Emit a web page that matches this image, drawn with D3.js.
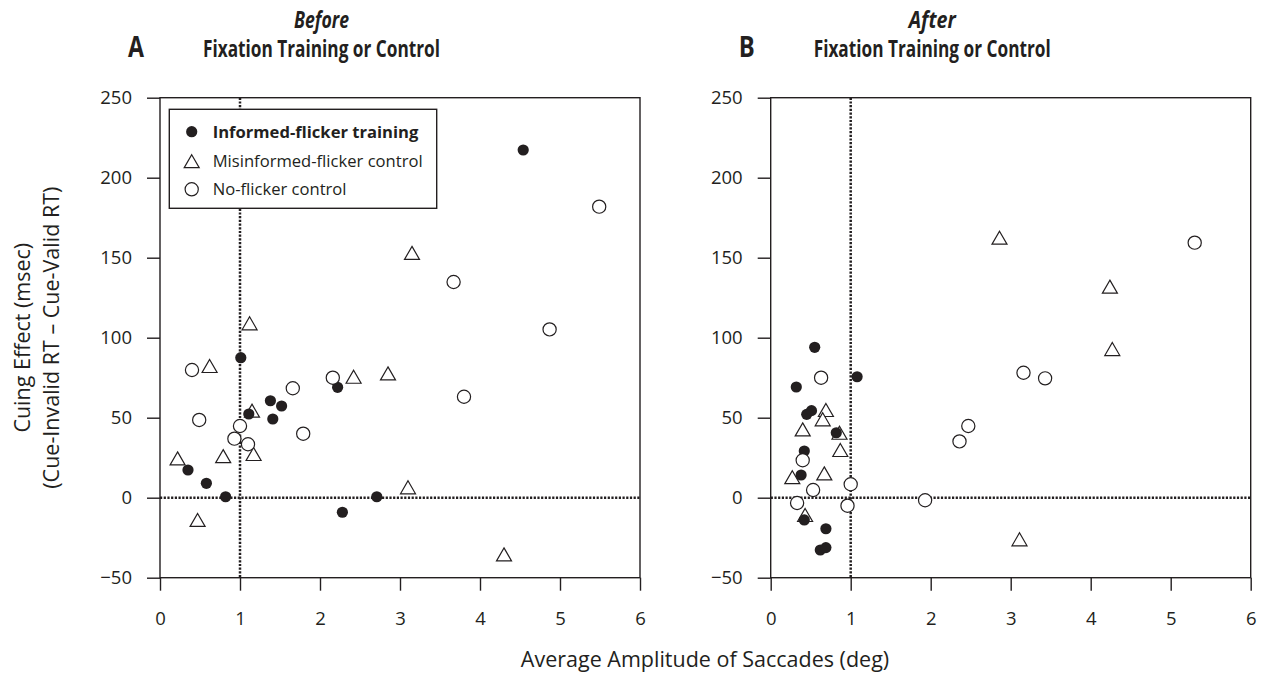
<!DOCTYPE html>
<html>
<head>
<meta charset="utf-8">
<script src="https://cdn.jsdelivr.net/npm/d3@7"></script>
<style>
  body { margin: 0; background: #fff; }
  svg { display: block; font-family: "Open Sans", sans-serif; }
</style>
</head>
<body>
<div id="chart"></div>
<script>
// values: [amplitude (deg), cuing effect (msec)]
const beforeInformed = [[1.01,87.5],[0.35,17.3],[0.58,9],[0.82,0.6],[1.11,52.3],[1.38,60.6],[1.52,57.3],[1.41,49.2],[2.22,69],[2.28,-9.1],[2.71,0.6],[4.54,217.3]];
const beforeMisinformed = [[1.12,109],[0.62,82.3],[0.22,24.6],[0.79,26],[1.15,54.4],[1.17,27.3],[0.47,-13.9],[2.42,75.6],[2.85,77.7],[3.15,153],[3.10,6.5],[4.30,-35.4]];
const beforeNoFlicker = [[0.40,79.8],[0.49,48.6],[1.0,44.8],[0.93,36.9],[1.10,33.4],[1.66,68.4],[1.79,40],[2.16,75],[3.67,134.8],[5.49,181.9],[4.87,105.2],[3.8,63.1]];

const afterInformed = [[0.55,94],[0.32,69.2],[1.08,75.6],[0.45,52.1],[0.51,54.4],[0.82,40.6],[0.42,29.2],[0.38,14.2],[0.42,-13.9],[0.69,-19.4],[0.62,-32.7],[0.69,-31.2]];
const afterMisinformed = [[2.86,162.5],[4.24,131.9],[4.27,92.9],[3.11,-26],[0.69,54.8],[0.65,49],[0.40,42.7],[0.86,40.6],[0.87,29.8],[0.67,15.2],[0.27,12.8],[0.43,-10.8]];
const afterNoFlicker = [[0.63,75],[0.40,23.4],[0.53,4.8],[0.33,-3.3],[1.0,8.4],[0.96,-5],[1.93,-1.6],[2.36,35.2],[2.47,44.8],[3.16,78.1],[3.43,74.6],[5.3,159.4]];

const xTicks = [0, 1, 2, 3, 4, 5, 6];
const yTicks = [-50, 0, 50, 100, 150, 200, 250];
const legendLabels = ["Informed-flicker training", "Misinformed-flicker control", "No-flicker control"];

const width = 1263, height = 685;
const ink = "#231f20";
const plotW = 480, plotTop = 97.7, plotBottom = 577.7;

const svg = d3.select("#chart").append("svg")
    .attr("width", width)
    .attr("height", height);

function trianglePath(w, h) {
    return `M0,${-h / 2}L${w / 2},${h / 2}L${-w / 2},${h / 2}Z`;
}

function drawMarker(sel, kind) {
    if (kind === "filled") {
        sel.append("circle").attr("r", 5.6).attr("fill", ink);
    } else if (kind === "triangle") {
        sel.append("path").attr("d", trianglePath(15, 13))
            .attr("fill", "#fff").attr("stroke", ink).attr("stroke-width", 1.2);
    } else {
        sel.append("circle").attr("r", 6.6)
            .attr("fill", "#fff").attr("stroke", ink).attr("stroke-width", 1.2);
    }
}

function drawPanel(x0, letter, when, informed, misinformed, noFlicker, withLegend) {
    const x = d3.scaleLinear().domain([0, 6]).range([x0, x0 + plotW]);
    const y = d3.scaleLinear().domain([-50, 250]).range([plotBottom, plotTop]);
    const g = svg.append("g");

    // dotted reference lines at 1 deg and 0 msec
    g.append("line")
        .attr("x1", x(1)).attr("x2", x(1))
        .attr("y1", y(250)).attr("y2", y(-50))
        .attr("stroke", ink).attr("stroke-width", 2.5).attr("stroke-dasharray", "2.2,1.5");
    g.append("line")
        .attr("x1", x(0)).attr("x2", x(6))
        .attr("y1", y(0)).attr("y2", y(0))
        .attr("stroke", ink).attr("stroke-width", 2.5).attr("stroke-dasharray", "2.2,1.5");

    // frame
    g.append("rect")
        .attr("x", x(0)).attr("y", y(250))
        .attr("width", x(6) - x(0)).attr("height", y(-50) - y(250))
        .attr("fill", "none").attr("stroke", ink).attr("stroke-width", 1.4);

    const xAxis = g.append("g")
        .attr("transform", `translate(0,${plotBottom})`)
        .call(d3.axisBottom(x).tickValues(xTicks).tickFormat(d3.format("d"))
            .tickSize(13).tickSizeOuter(0).tickPadding(21));
    const yAxis = g.append("g")
        .attr("transform", `translate(${x0},0)`)
        .call(d3.axisLeft(y).tickValues(yTicks).tickSize(13).tickSizeOuter(0).tickPadding(15));
    [xAxis, yAxis].forEach(a => {
        a.select(".domain").remove();
        a.selectAll("line").attr("stroke", ink).attr("stroke-width", 1.4);
        a.selectAll("text").attr("fill", ink).style("font-size", "18.5px")
            .style("font-family", "'Open Sans', sans-serif");
    });

    // points: triangles underneath, then filled, then open circles
    const layers = [[misinformed, "triangle"], [informed, "filled"], [noFlicker, "open"]];
    layers.forEach(([data, kind]) => {
        g.append("g").selectAll("g")
            .data(data)
            .join("g")
            .attr("transform", d => `translate(${x(d[0])},${y(d[1])})`)
            .each(function () { drawMarker(d3.select(this), kind); });
    });

    if (withLegend) {
        const lg = g.append("g");
        lg.append("rect")
            .attr("x", x0 + 9.3).attr("y", 109.3)
            .attr("width", 267.4).attr("height", 99)
            .attr("fill", "#fff").attr("stroke", ink).attr("stroke-width", 1.4);
        const rows = [131.7, 161.2, 189.3];
        const kinds = ["filled", "triangle", "open"];
        legendLabels.forEach((label, i) => {
            const m = lg.append("g").attr("transform", `translate(${x0 + 31.7},${rows[i]})`);
            drawMarker(m, kinds[i]);
            lg.append("text")
                .attr("x", x0 + 52.7).attr("y", rows[i])
                .attr("dy", "0.36em")
                .attr("fill", ink)
                .style("font-size", "16.6px")
                .style("font-weight", i === 0 ? "bold" : "normal")
                .text(label);
        });
    }

    // titles
    const cx = x0 + 161.5;
    svg.append("text")
        .attr("x", cx).attr("y", 28)
        .attr("text-anchor", "middle")
        .attr("fill", ink)
        .style("font-size", "22.5px").style("font-weight", "bold").style("font-style", "italic")
        .attr("textLength", when === "Before" ? 55 : 47).attr("lengthAdjust", "spacingAndGlyphs")
        .text(when);
    svg.append("text")
        .attr("x", cx).attr("y", 57)
        .attr("text-anchor", "middle")
        .attr("fill", ink)
        .style("font-size", "23.5px").style("font-weight", "bold")
        .attr("textLength", 237).attr("lengthAdjust", "spacingAndGlyphs")
        .text("Fixation Training or Control");
    svg.append("text")
        .attr("x", x0 - 32).attr("y", 57)
        .attr("fill", ink)
        .style("font-size", "28px").style("font-weight", "bold")
        .attr("textLength", 16).attr("lengthAdjust", "spacingAndGlyphs")
        .text(letter);
}

drawPanel(160, "A", "Before", beforeInformed, beforeMisinformed, beforeNoFlicker, true);
drawPanel(770.7, "B", "After", afterInformed, afterMisinformed, afterNoFlicker, false);

// y axis title
const yTitle = svg.append("text")
    .attr("transform", `translate(0,${(plotTop + plotBottom) / 2}) rotate(-90)`)
    .attr("text-anchor", "middle")
    .attr("fill", ink)
    .style("font-size", "21.5px");
yTitle.append("tspan").attr("x", 0).attr("y", 30).text("Cuing Effect (msec)");
yTitle.append("tspan").attr("x", 0).attr("y", 59).text("(Cue-Invalid RT \u2013 Cue-Valid RT)");

// x axis title
svg.append("text")
    .attr("x", 705).attr("y", 667)
    .attr("text-anchor", "middle")
    .attr("fill", ink)
    .style("font-size", "21.5px")
    .text("Average Amplitude of Saccades (deg)");
</script>
</body>
</html>
